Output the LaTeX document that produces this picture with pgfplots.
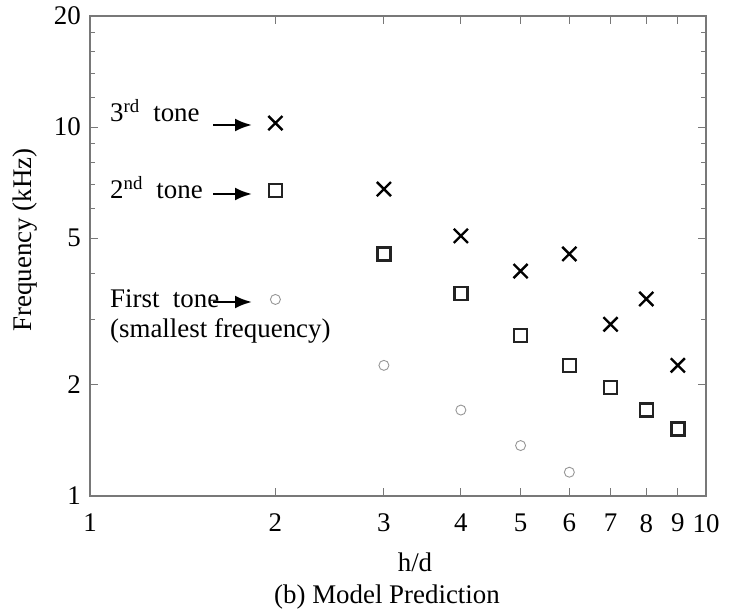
\documentclass[border=0pt]{standalone}
\usepackage{pgfplots}
\pgfplotsset{compat=1.18}
\usepackage{fontspec}
\setmainfont{Liberation Serif}
\usetikzlibrary{arrows.meta}
\definecolor{axgray}{RGB}{120,120,120}
\definecolor{circgray}{RGB}{150,150,150}
\definecolor{sqdark}{RGB}{35,35,35}
\begin{document}
\fontsize{27}{32}\selectfont
\begin{tikzpicture}[x=1bp,y=1bp]
\useasboundingbox (0,0) rectangle (730,615);
\begin{axis}[
  at={(90bp,119bp)}, anchor=south west,
  scale only axis, width=616bp, height=480bp,
  xmode=log, ymode=log,
  xmin=1, xmax=10, ymin=1, ymax=20,
  xtick={1,2,3,4,5,6,7,8,9,10},
  xticklabels={1,2,3,4,5,6,7,8,9,10},
  ytick={1,2,5,10,20},
  yticklabels={1,2,5,10,20},
  minor xtick={},
  minor ytick={3,4,6,7,8,9,12,14,16,18},
  tick pos=both, tick align=inside,
  major tick length=8bp, minor tick length=5bp,
  axis line style={axgray, line width=1.3bp},
  every tick/.style={axgray, line width=1bp},
  /pgf/number format/assume math mode=true,
  tick label style={font=\fontsize{27}{32}\selectfont},
  xticklabel style={yshift=-9bp},
  clip=false,
]
\addplot[only marks, mark=x, mark size=10bp, line width=2.4bp, black]
  coordinates {(2,10.25) (3,6.79) (4,5.07) (5,4.07) (6,4.53) (7,2.92) (8,3.42) (9,2.26)};
\addplot[only marks, mark=square, mark size=6.5bp, line width=2.4bp, sqdark]
  coordinates {(2,6.72) (3,4.53) (4,3.54) (5,2.72) (6,2.26) (7,1.97) (8,1.71) (9,1.52)};
\addplot[only marks, mark=o, mark size=5bp, line width=0.9bp, circgray]
  coordinates {(2,3.41) (3,2.26) (4,1.71) (5,1.37) (6,1.16)};
\end{axis}
% annotations
\node[anchor=base west, inner sep=0] at (110,493) {3\textsuperscript{rd}\ \ tone};
\draw[-{Latex[length=17bp,width=13bp]}, line width=2.6bp] (213,490) -- (252,490);
\node[anchor=base west, inner sep=0] at (110,416) {2\textsuperscript{nd}\ \ tone};
\draw[-{Latex[length=17bp,width=13bp]}, line width=2.6bp] (213,421) -- (252,421);
\node[anchor=base west, inner sep=0] at (110,307) {First\ \ tone};
\draw[-{Latex[length=17bp,width=13bp]}, line width=2.6bp] (213,313) -- (252,313);
\node[anchor=base west, inner sep=0] at (110,277) {(smallest frequency)};
% axis labels
\node[rotate=90] at (25,375) {Frequency (kHz)};
\node[anchor=base] at (415,43) {h/d};
\node[anchor=base] at (387,11) {(b) Model Prediction};
\end{tikzpicture}
\end{document}
